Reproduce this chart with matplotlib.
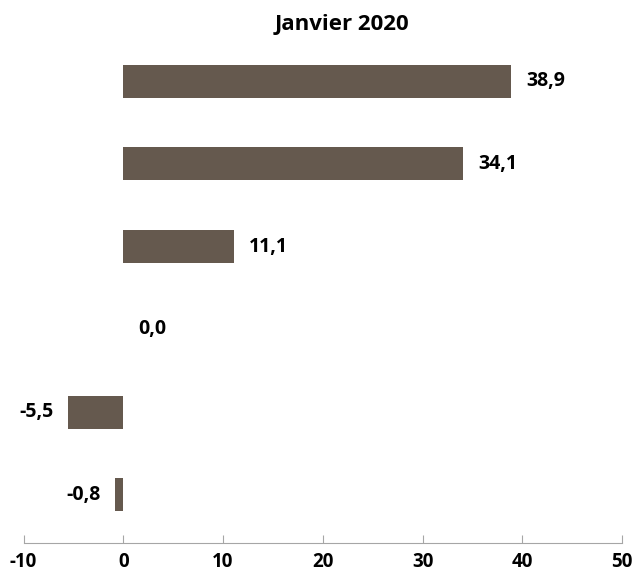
import matplotlib
matplotlib.use("Agg")
import matplotlib.pyplot as plt

# values, bottom to top
values = [-0.8, -5.5, 0.0, 11.1, 34.1, 38.9]
labels = ["-0,8", "-5,5", "0,0", "11,1", "34,1", "38,9"]
xticks = [-10, 0, 10, 20, 30, 40, 50]
title = "Janvier 2020"

plt.rcParams['font.family'] = ['Open Sans', 'DejaVu Sans']

fig = plt.figure(figsize=(6.36, 5.78), dpi=100)
ax = fig.add_axes([0.037, 0.061, 0.941, 0.870])

pos = list(range(len(values)))
ax.barh(pos, values, height=0.4, color='#65594e')

for p, v, lab in zip(pos, values, labels):
    if v >= 0:
        ax.annotate(lab, (v, p), xytext=(10.5, 0), textcoords='offset points',
                    ha='left', va='center', fontsize=14, fontweight='bold')
    else:
        ax.annotate(lab, (v, p), xytext=(-10.5, 0), textcoords='offset points',
                    ha='right', va='center', fontsize=14, fontweight='bold')

ax.set_xlim(-10, 50)
ax.set_ylim(-0.58, 5.5)
ax.set_xticks(xticks)
ax.set_xticklabels([str(t) for t in xticks], fontsize=13.5, fontweight='bold')
ax.set_yticks([])
for s in ['top', 'right', 'left']:
    ax.spines[s].set_visible(False)
ax.spines['bottom'].set_color('#a6a6a6')
ax.tick_params(axis='x', direction='in', length=6, color='#a6a6a6', pad=7)

fig.text(0.537, 0.957, title, ha='center', va='center', fontsize=16, fontweight='bold')

fig.savefig('out.png', dpi=100)
